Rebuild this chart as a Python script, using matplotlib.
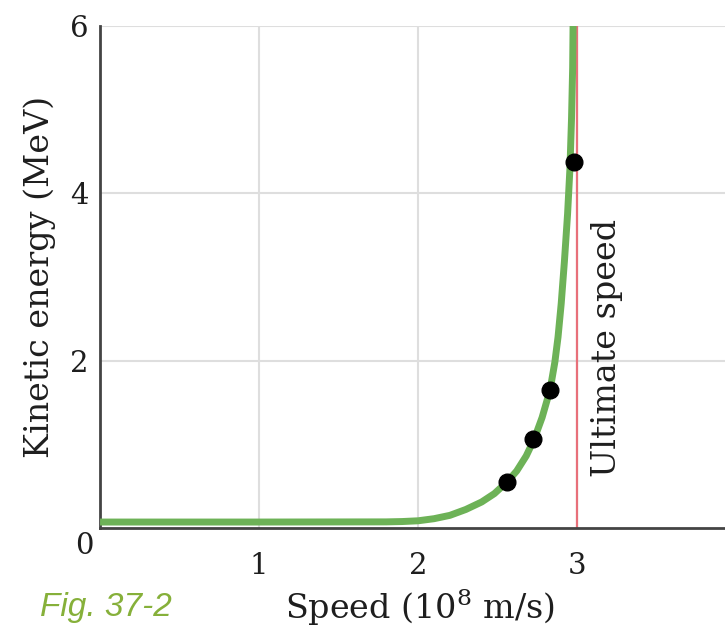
import matplotlib
matplotlib.use("Agg")
import matplotlib.pyplot as plt

# kinetic energy curve
speed = [0.0, 1.0, 1.8, 1.9, 2.0, 2.1, 2.2, 2.3, 2.4, 2.48, 2.56, 2.62,
         2.68, 2.73, 2.78, 2.83, 2.86, 2.88, 2.90, 2.92, 2.94, 2.955,
         2.965, 2.972, 2.975]
energy = [0.07, 0.07, 0.072, 0.076, 0.085, 0.11, 0.15, 0.22, 0.31, 0.41,
          0.55, 0.68, 0.86, 1.06, 1.32, 1.65, 1.98, 2.28, 2.68, 3.18, 3.75,
          4.30, 4.90, 5.50, 6.10]

# measured electrons
meas_speed = [2.56, 2.725, 2.827, 2.98]
meas_energy = [0.55, 1.06, 1.65, 4.37]

ultimate = 3.0
xticks = [1, 2, 3]
yticks = [2, 4, 6]

plt.rcParams['font.family'] = ['DejaVu Serif']
plt.rcParams['mathtext.fontset'] = 'dejavuserif'

txt = '#1e1e1e'

fig = plt.figure(figsize=(7.25, 6.43), dpi=100)
ax = fig.add_axes([0.138, 0.179, 0.862, 0.781])

ax.set_xlim(0, 3.93)
ax.set_ylim(0, 6)

ax.set_xticks(xticks)
ax.set_yticks(yticks)
ax.set_xticklabels([str(t) for t in xticks])
ax.set_yticklabels([str(t) for t in yticks])
ax.tick_params(length=0, labelsize=21, colors=txt)
ax.tick_params(axis='x', pad=17)
ax.tick_params(axis='y', pad=8)

ax.grid(True, color='#dedede', lw=1.5)
ax.set_axisbelow(True)
for s in ['top', 'right']:
    ax.spines[s].set_visible(False)
for s in ['left', 'bottom']:
    ax.spines[s].set_color('#444444')
    ax.spines[s].set_linewidth(2)

ax.axvline(ultimate, color='#e8707a', lw=1.6, zorder=2)
ax.plot(speed, energy, color='#6db257', lw=5, solid_capstyle='butt',
        solid_joinstyle='round', zorder=3)
ax.plot(meas_speed, meas_energy, 'o', color='black', ms=12, zorder=4)

ax.annotate('0', xy=(0, 0), xytext=(-11, -13), textcoords='offset points',
            ha='center', va='center', fontsize=21, color=txt,
            annotation_clip=False)

ax.text(3.19, 2.15, 'Ultimate speed', rotation=90, ha='center', va='center',
        fontsize=24, color=txt)

ax.set_ylabel('Kinetic energy (MeV)', fontsize=24, color=txt, labelpad=10)
fig.text(0.58, 0.055, 'Speed (10$^8$ m/s)', ha='center', va='center',
         fontsize=24, color=txt)
fig.text(0.055, 0.055, 'Fig. 37-2', ha='left', va='center', fontsize=24,
         style='italic', color='#86b03a', family=['Liberation Sans'])

fig.savefig('out.png', dpi=100)
